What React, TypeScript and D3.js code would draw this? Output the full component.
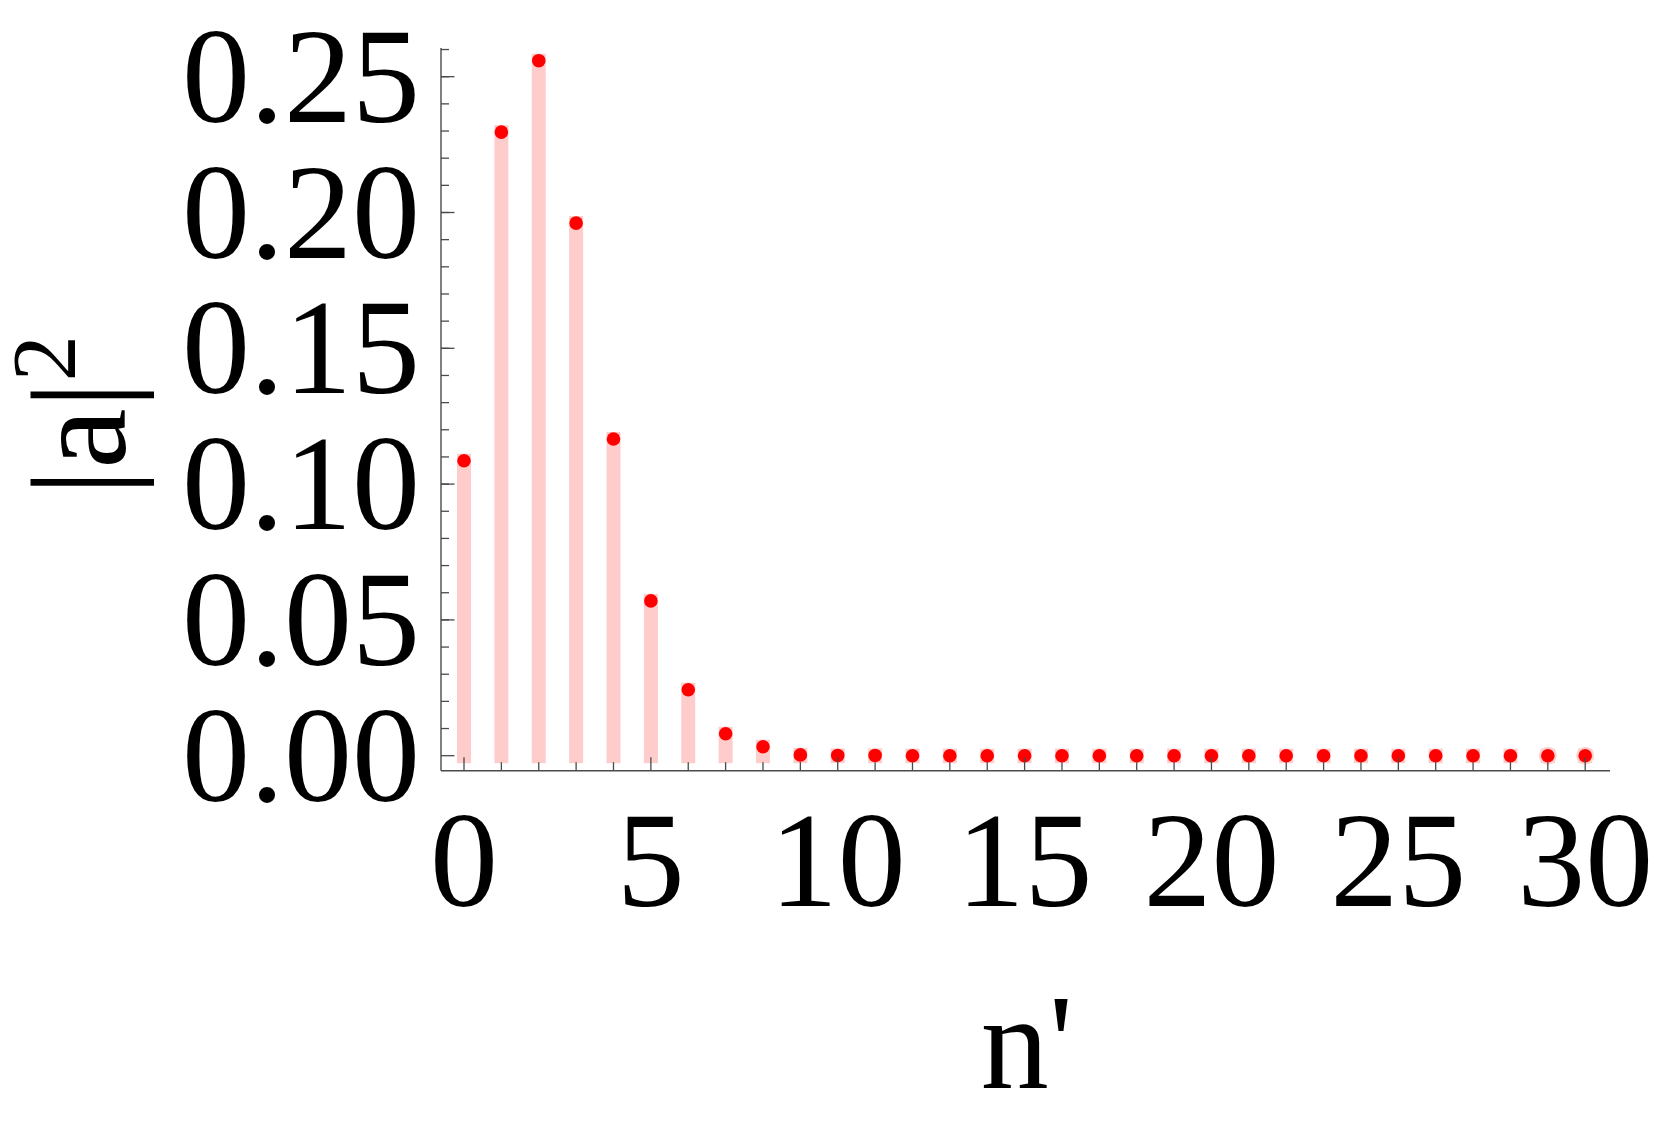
import React from "react";
import * as d3 from "d3";

// occupation index n'
const nValues = [0, 1, 2, 3, 4, 5, 6, 7, 8, 9, 10, 11, 12, 13, 14, 15, 16, 17, 18, 19, 20, 21, 22, 23, 24, 25, 26, 27, 28, 29, 30];
// probabilities |a|^2
const probs = [0.1086, 0.2296, 0.2559, 0.1961, 0.1166, 0.057, 0.0243, 0.0081, 0.0033, 0.0003, 0.0001, 0.0001, 0, 0, 0, 0, 0, 0, 0, 0, 0, 0, 0, 0, 0, 0, 0, 0, 0, 0, 0];
const xTickLabels = [0, 5, 10, 15, 20, 25, 30];
const yTickLabels = ["0.00", "0.05", "0.10", "0.15", "0.20", "0.25"];
const yMinorTicks = d3.range(1, 27).map((i) => i / 100);
const haloIndices = [29, 30];

const W = 1661;
const H = 1129;
const FONT = "'Liberation Serif', 'Times New Roman', Times, serif";
const txt = { fontFamily: FONT };

export default function App() {
  const x = d3.scaleLinear().domain([0, 30]).range([464, 1585.2]);
  const y = d3.scaleLinear().domain([0, 0.25]).range([755.7, 76.7]);
  const axisX = 441;
  const axisY = 770.7;
  const axisRight = 1610;
  const axisTop = 48;
  const barW = 14;
  const barBottom = y(0) + 7.5;
  const axisColor = "#4a4a4a";

  return (
    <svg
      width={W}
      height={H}
      style={{ position: "absolute", left: 0, top: 0, background: "#fff" }}
    >
      {/* bars */}
      {probs.map((p, i) => (
        <rect
          key={"b" + i}
          x={x(nValues[i]) - barW / 2}
          y={y(p) - 7}
          width={barW}
          height={Math.max(0, barBottom - (y(p) - 7))}
          fill="#ffcccc"
        />
      ))}
      {/* halos */}
      {haloIndices.map((i) => (
        <circle key={"h" + i} cx={x(nValues[i])} cy={y(probs[i])} r={9} fill="#ffd0d0" />
      ))}
      {/* dots */}
      {probs.map((p, i) => (
        <circle key={"d" + i} cx={x(nValues[i])} cy={y(p)} r={6.8} fill="#ff0000" />
      ))}
      {/* x ticks */}
      {nValues.map((n) => {
        const major = n % 5 === 0;
        return (
          <line
            key={"xt" + n}
            x1={x(n)}
            x2={x(n)}
            y1={axisY}
            y2={axisY - (major ? 13.5 : 8.5)}
            stroke={axisColor}
            strokeWidth={1.3}
          />
        );
      })}
      {/* y minor ticks */}
      {yMinorTicks.map((v, i) => (
        <line
          key={"ym" + i}
          x1={axisX}
          x2={axisX + 8}
          y1={y(v)}
          y2={y(v)}
          stroke={axisColor}
          strokeWidth={1.3}
        />
      ))}
      {/* y major ticks */}
      {yTickLabels.map((t) => (
        <line
          key={"yt" + t}
          x1={axisX}
          x2={axisX + 13.5}
          y1={y(+t)}
          y2={y(+t)}
          stroke={axisColor}
          strokeWidth={1.3}
        />
      ))}
      {/* axes */}
      <line x1={axisX} x2={axisRight} y1={axisY} y2={axisY} stroke={axisColor} strokeWidth={1.4} />
      <line x1={axisX} x2={axisX} y1={axisTop} y2={axisY} stroke={axisColor} strokeWidth={1.4} />
      {/* y tick labels */}
      {yTickLabels.map((t) => (
        <text key={"yl" + t} x={420} y={y(+t) + 45} textAnchor="end" fontSize={136} fill="#000" style={txt}>
          {t}
        </text>
      ))}
      {/* x tick labels */}
      {xTickLabels.map((t) => (
        <text key={"xl" + t} x={x(t)} y={906} textAnchor="middle" fontSize={136} fill="#000" style={txt}>
          {t}
        </text>
      ))}
      {/* x axis title */}
      <text x={1027} y={1088} textAnchor="middle" fontSize={136} fill="#000" style={txt}>
        {"n'"}
      </text>
      {/* y axis title */}
      <text transform="translate(125,496) rotate(-90)" textAnchor="start" fontSize={136} fill="#000" style={txt}>
        {"|a|"}
        <tspan fontSize={92} dy={-50}>
          2
        </tspan>
      </text>
    </svg>
  );
}
